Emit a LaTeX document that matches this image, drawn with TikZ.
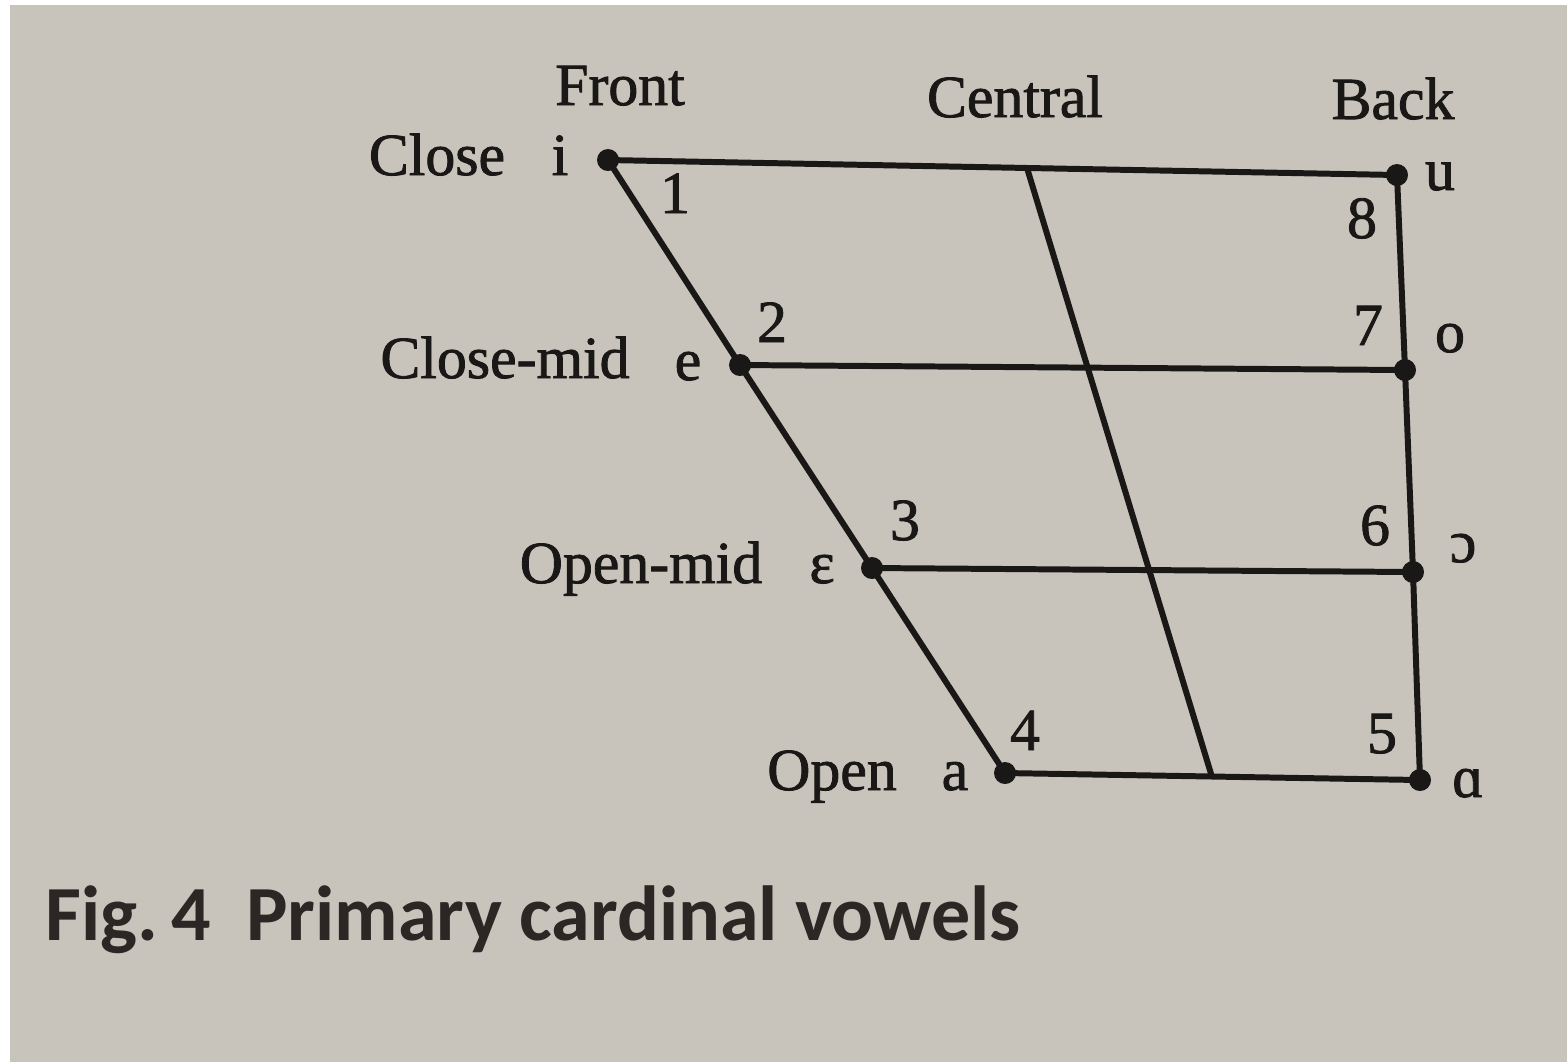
\documentclass[tikz,border=0pt]{standalone}
\usepackage{fontspec}
\setmainfont{Liberation Serif}[BoldFont={Liberation Serif}, BoldFeatures={FakeBold=1.4}]
\newfontfamily\capfont{Carlito}
\definecolor{carta}{HTML}{C8C3BB}
\definecolor{inchiostro}{HTML}{1A1816}
\definecolor{didascalia}{HTML}{2A2724}
\tikzset{
  vocale/.style={circle, fill=inchiostro, inner sep=0pt, minimum size=0.22cm},
  etichetta/.style={font=\bfseries\fontsize{17}{20}\selectfont, text=inchiostro, inner sep=0pt, anchor=base},
  linea/.style={draw=inchiostro, line width=1.7pt},
}
\begin{document}
\begin{tikzpicture}[x=0.01cm, y=-0.01cm]
    % Foglio
    \fill[white] (0,0) rectangle (1567,1062);
    \fill[carta] (10,5) rectangle (1567,1062);
    \useasboundingbox (0,0) rectangle (1567,1062);

    % Vocali cardinali
    \node[vocale] (i) at (608,160) {};
    \node[vocale] (e) at (740,365) {};
    \node[vocale] (eps) at (872,568) {};
    \node[vocale] (a) at (1005,773) {};
    \node[vocale] (u) at (1397,175) {};
    \node[vocale] (o) at (1405,370) {};
    \node[vocale] (oo) at (1413,572) {};
    \node[vocale] (aa) at (1420,780) {};
    \coordinate (ct) at (1027,168);
    \coordinate (cb) at (1212,777);

    % Quadrilatero
    \draw[linea] (i.center) -- (e.center) -- (eps.center) -- (a.center);
    \draw[linea] (u.center) -- (o.center) -- (oo.center) -- (aa.center);
    \draw[linea] (i.center) -- (u.center);
    \draw[linea] (e.center) -- (o.center);
    \draw[linea] (eps.center) -- (oo.center);
    \draw[linea] (a.center) -- (aa.center);
    \draw[linea] (ct) -- (cb); % linea centrale

    % Intestazioni
    \node[etichetta] (front) at (620,105) {Front};
    \node[etichetta] (central) at (1015,117) {Central};
    \node[etichetta] (back) at (1393,119) {Back};

    % Altezze
    \node[etichetta] (close) at (437,175) {Close};
    \node[etichetta] (closemid) at (505,378) {Close-mid};
    \node[etichetta] (openmid) at (641,583) {Open-mid};
    \node[etichetta] (open) at (832,790) {Open};

    % Simboli
    \node[etichetta] (si) at (560,175) {i};
    \node[etichetta] (se) at (688,380) {e};
    \node[etichetta] (seps) at (822,583) {ɛ};
    \node[etichetta] (sa) at (955,790) {a};
    \node[etichetta] (su) at (1440,190) {u};
    \node[etichetta] (so) at (1450,352) {o};
    \node[etichetta] (soo) at (1463,562) {ɔ};
    \node[etichetta] (saa) at (1468,797) {ɑ};

    % Numeri
    \node[etichetta] (n1) at (675,213) {1};
    \node[etichetta] (n2) at (772,342) {2};
    \node[etichetta] (n3) at (905,540) {3};
    \node[etichetta] (n4) at (1025,750) {4};
    \node[etichetta] (n5) at (1382,753) {5};
    \node[etichetta] (n6) at (1375,545) {6};
    \node[etichetta] (n7) at (1368,345) {7};
    \node[etichetta] (n8) at (1362,238) {8};

    % Didascalia
    \node[font=\capfont\bfseries\fontsize{22.2}{27}\selectfont, text=didascalia, anchor=base west, inner sep=0pt]
      (didasc) at (45,940) {Fig.\,4\ \ Primary cardinal vowels};
\end{tikzpicture}
\end{document}
